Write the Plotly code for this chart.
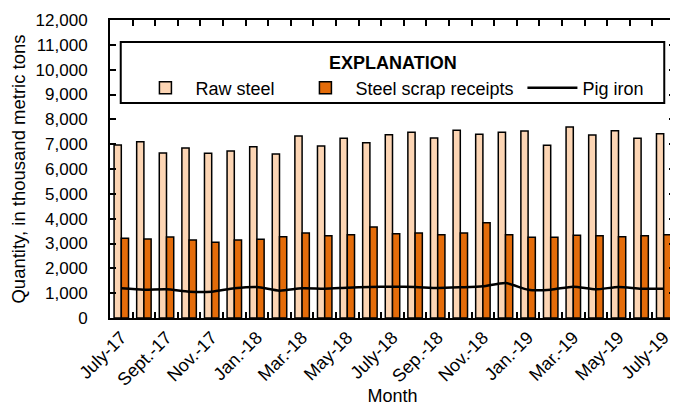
import plotly.graph_objects as go

months = ["July-17", "Aug.-17", "Sept.-17", "Oct.-17", "Nov.-17", "Dec.-17",
          "Jan.-18", "Feb.-18", "Mar.-18", "Apr.-18", "May-18", "June-18",
          "July-18", "Aug.-18", "Sep.-18", "Oct.-18", "Nov.-18", "Dec.-18",
          "Jan.-19", "Feb.-19", "Mar.-19", "Apr.-19", "May-19", "June-19", "July-19"]
raw_steel = [6970, 7100, 6645, 6846, 6633, 6725, 6899, 6605, 7330, 6927, 7237, 7060,
             7383, 7477, 7249, 7558, 7397, 7477, 7531, 6955, 7692, 7370, 7544, 7237, 7423]
scrap = [3208, 3181, 3262, 3141, 3047, 3141, 3168, 3275, 3423, 3316, 3356, 3665,
         3396, 3423, 3356, 3423, 3839, 3356, 3249, 3249, 3329, 3316, 3275, 3316, 3356]
pig_iron = [1195, 1141, 1155, 1060, 1060, 1195, 1248, 1100, 1195, 1181, 1221, 1248,
            1262, 1248, 1208, 1235, 1275, 1410, 1141, 1141, 1262, 1155, 1248, 1181, 1181]
tick_labels = ["July-17", "Sept.-17", "Nov.-17", "Jan.-18", "Mar.-18", "May-18",
               "July-18", "Sep.-18", "Nov.-18", "Jan.-19", "Mar.-19", "May-19", "July-19"]

FONT = "Liberation Sans, Arial, sans-serif"

fig = go.Figure()
fig.add_trace(go.Bar(x=months, y=raw_steel, name="Raw steel", legendwidth=95,
                     marker=dict(color="#FCD5B4", line=dict(color="black", width=1.5))))
fig.add_trace(go.Bar(x=months, y=scrap, name="Steel scrap receipts", legendwidth=162,
                     marker=dict(color="#E46C0A", line=dict(color="black", width=1.5))))
fig.add_trace(go.Scatter(x=months, y=pig_iron, name="Pig iron", mode="lines", legendwidth=80,
                         line=dict(color="black", width=2.5, shape="spline", smoothing=0.6)))

ticktext = [m if m in tick_labels else "" for m in months]

fig.update_layout(
    width=670, height=398,
    margin=dict(l=102, r=1, t=12, b=88),
    paper_bgcolor="white", plot_bgcolor="white",
    font=dict(family=FONT, size=18, color="black"),
    barmode="group", bargap=0.36, bargroupgap=0,
    showlegend=True,
    legend=dict(
        x=0.045, y=0.772, xanchor="left", yanchor="middle",
        orientation="h",
        borderwidth=0, bgcolor="rgba(0,0,0,0)",
        font=dict(size=18),
        itemwidth=50,
        traceorder="normal",
    ),
    shapes=[dict(type="rect", xref="paper", yref="paper",
                 x0=0.019, x1=0.981, y0=0.7215, y1=0.926,
                 line=dict(color="black", width=2), fillcolor="white", layer="below")],
    annotations=[dict(text="<b>EXPLANATION</b>", xref="paper", yref="paper",
                      x=0.5, y=0.856, xanchor="center", yanchor="middle",
                      showarrow=False, font=dict(size=18))],
    xaxis=dict(
        type="category",
        tickmode="array", tickvals=months, ticktext=ticktext,
        tickson="boundaries", ticks="inside", ticklen=6, tickwidth=1.5, tickcolor="black",
        tickangle=-45,
        showline=True, linecolor="black", linewidth=2, mirror="ticks",
        showgrid=False, zeroline=False,
        title=dict(text="Month", standoff=0, font=dict(size=18)),
        tickfont=dict(size=18),
    ),
    yaxis=dict(
        range=[0, 12000], dtick=1000, tickformat=",d",
        ticks="inside", ticklen=6, tickwidth=1.5, tickcolor="black",
        showline=True, linecolor="black", linewidth=2, mirror="ticks",
        showgrid=False, zeroline=False, ticklabelstandoff=17,
        title=dict(text="Quantity, in thousand metric tons", standoff=8, font=dict(size=18.5)),
        tickfont=dict(size=17),
    ),
)

fig.write_html("out.html")
